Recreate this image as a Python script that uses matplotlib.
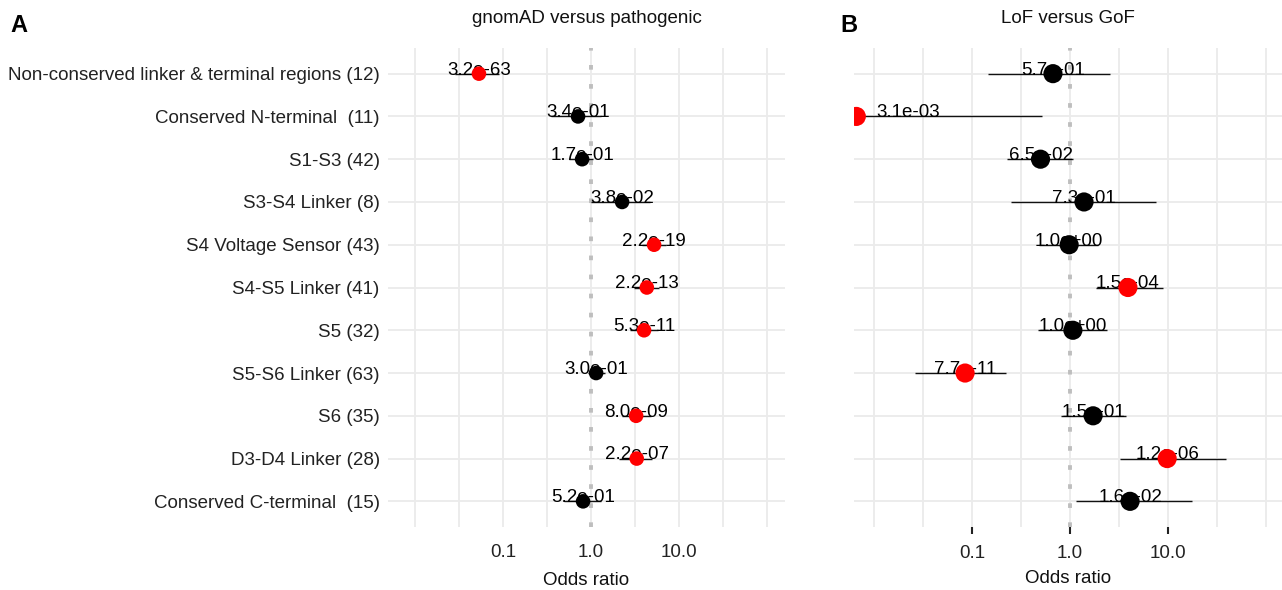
import numpy as np
import matplotlib.pyplot as plt

plt.rcParams['font.family'] = ['Liberation Sans', 'DejaVu Sans']

regions = ["Non-conserved linker & terminal regions (12)", "Conserved N-terminal  (11)",
           "S1-S3 (42)", "S3-S4 Linker (8)", "S4 Voltage Sensor (43)", "S4-S5 Linker (41)",
           "S5 (32)", "S5-S6 Linker (63)", "S6 (35)", "D3-D4 Linker (28)",
           "Conserved C-terminal  (15)"]

# panel A: gnomAD versus pathogenic
or_a = [0.053, 0.71, 0.79, 2.25, 5.2, 4.3, 4.0, 1.14, 3.25, 3.3, 0.81]
lo_a = [0.0285, 0.35, 0.56, 1.0, 3.8, 3.1, 2.8, 0.93, 2.25, 2.1, 0.49]
hi_a = [0.090, 1.30, 1.05, 4.7, 7.1, 5.9, 5.8, 1.44, 4.8, 4.9, 1.3]
p_a = ["3.2e-63", "3.4e-01", "1.7e-01", "3.8e-02", "2.2e-19", "2.2e-13",
       "5.3e-11", "3.0e-01", "8.0e-09", "2.2e-07", "5.2e-01"]

# panel B: LoF versus GoF
or_b = [0.67, 0.0066, 0.50, 1.39, 0.98, 3.9, 1.07, 0.085, 1.72, 9.8, 4.1]
lo_b = [0.145, 0.0002, 0.23, 0.25, 0.48, 1.84, 0.47, 0.026, 0.81, 3.2, 1.15]
hi_b = [2.56, 0.52, 1.07, 7.5, 1.93, 8.9, 2.4, 0.22, 3.7, 39.0, 17.6]
p_b = ["5.7e-01", "3.1e-03", "6.5e-02", "7.3e-01", "1.0e+00", "1.5e-04",
       "1.0e+00", "7.7e-11", "1.5e-01", "1.2e-06", "1.6e-02"]

ticks = [0.1, 1.0, 10.0]
tick_labels = ["0.1", "1.0", "10.0"]

W, H = 1282, 590
FS = 13.5
fig = plt.figure(figsize=(W / 100, H / 100), dpi=100)


def panel(left, right, xlo, xhi, ors, los, his, ps, title, msize, show_y, show_ticks):
    ax = fig.add_axes([left / W, 1 - 527 / H, (right - left) / W, 479 / H])
    ax.set_xscale('log')
    ax.set_xlim(10 ** xlo, 10 ** xhi)
    ax.set_ylim(11.6, 0.4)
    y = np.arange(1, len(regions) + 1)

    # grid: majors at decades, minors at half decades
    for e in np.arange(-2, 2.01, 0.5):
        ax.axvline(10 ** e, color='#EBEBEB', lw=1.3, zorder=0)
    for yy in y:
        ax.axhline(yy, color='#EBEBEB', lw=1.3, zorder=0)
    ax.axvline(1.0, color='#BEBEBE', lw=2.8, dashes=(1.2, 3.7), zorder=1)

    ax.hlines(y, los, his, color='#111111', lw=1.0, zorder=2)
    ax.scatter(ors, y, s=msize, c=['red' if float(p) < 0.01 else 'black' for p in ps],
               zorder=4, linewidths=0)
    for yi, o, p in zip(y, ors, ps):
        lx = max(np.log10(o), xlo + 0.55)
        ax.text(10 ** lx, yi + 0.02, p, ha='center', va='baseline',
                fontsize=FS, color='black', zorder=3)

    for s in ax.spines.values():
        s.set_visible(False)
    ax.set_xticks(ticks)
    ax.set_xticklabels(tick_labels)
    ax.xaxis.set_minor_locator(plt.NullLocator())
    ax.tick_params(axis='x', labelsize=FS, labelcolor='#222222',
                   pad=8 if show_ticks else 12,
                   length=5 if show_ticks else 0, width=1.5, color='#222222')
    ax.set_yticks(y)
    if show_y:
        ax.set_yticklabels(regions)
        ax.tick_params(axis='y', labelsize=FS, labelcolor='#222222', length=0, pad=6)
    else:
        ax.set_yticklabels([])
        ax.tick_params(axis='y', length=0)
    ax.set_xlabel("Odds ratio", fontsize=FS, color='#111111',
                  labelpad=6 if show_ticks else 8)
    ax.set_title(title, fontsize=FS, color='#111111', pad=18)
    return ax


panel(388, 785, -2.31, 2.205, or_a, lo_a, hi_a, p_a, "gnomAD versus pathogenic", 110, True, False)
panel(854, 1282, -2.204, 2.163, or_b, lo_b, hi_b, p_b, "LoF versus GoF", 190, False, True)

fig.text(10 / W, 1 - 25 / H, "A", fontsize=17, fontweight='bold', va='center')
fig.text(840 / W, 1 - 25 / H, "B", fontsize=17, fontweight='bold', va='center')

fig.savefig("out.png", dpi=100)
